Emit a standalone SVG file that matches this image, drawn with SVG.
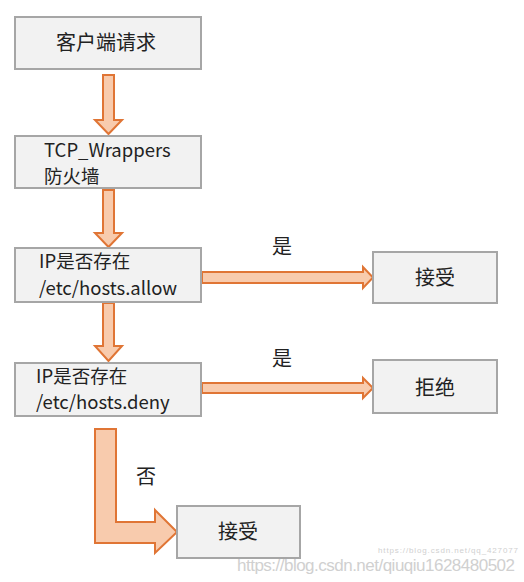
<svg xmlns="http://www.w3.org/2000/svg" width="524" height="582" viewBox="0 0 524 582">
<style>
.box{fill:#f2f2f2;stroke:#a6a6a6;stroke-width:2}
.arr{fill:#f8cbad;stroke:#e07535;stroke-width:2;stroke-linejoin:miter}
.t{font-family:"Noto Sans CJK SC","Noto Sans",sans-serif;font-size:20px;fill:#222}
.s{font-size:18.5px}
.c{text-anchor:middle}
.wm{font-family:"Liberation Sans",Arial,sans-serif;fill:#d0d0d0}
</style>
<rect width="524" height="582" fill="#fff"/>
<g id="connectors">
<path class="arr" d="M103,75 H114 V120 H122 L108.5,134 L95,120 H103 Z"/>
<path class="arr" d="M103,190 H114 V233 H122 L108.5,247 L95,233 H103 Z"/>
<path class="arr" d="M103,303 H114 V346 H122 L108.5,361 L95,346 H103 Z"/>
<path class="arr" d="M202,272 H363 V267 L373,277.5 L363,288 V283 H202 Z"/>
<path class="arr" d="M202,383 H363 V378 L373,388 L363,398 V393 H202 Z"/>
<path class="arr" d="M95,429 H116 V522 H155 V510 L177,532 L155,553 V543 H95 Z"/>
<text class="t c" x="282" y="254">是</text>
<text class="t c" x="282" y="366">是</text>
<text class="t c" x="146" y="484">否</text>
</g>
<g id="n1"><rect class="box" x="15" y="17" width="186" height="52"/><text class="t c" x="106" y="50">客户端请求</text></g>
<g id="n2"><rect class="box" x="15" y="136" width="186" height="52"/><text class="t s" x="44" y="157">TCP_Wrappers</text><text class="t s" x="44" y="183">防火墙</text></g>
<g id="n3"><rect class="box" x="15" y="248" width="186" height="54"/><text class="t s" x="39" y="268">IP是否存在</text><text class="t s" x="39" y="295">/etc/hosts.allow</text></g>
<g id="n4"><rect class="box" x="15" y="363" width="186" height="53"/><text class="t s" x="36" y="383">IP是否存在</text><text class="t s" x="36" y="409">/etc/hosts.deny</text></g>
<g id="n5"><rect class="box" x="373" y="252" width="124" height="51"/><text class="t c" x="435" y="285">接受</text></g>
<g id="n6"><rect class="box" x="373" y="360" width="124" height="53"/><text class="t c" x="435" y="395">拒绝</text></g>
<g id="n7"><rect class="box" x="177" y="506" width="123" height="52"/><text class="t c" x="238" y="539">接受</text></g>
<text class="wm" x="378" y="553" font-size="8" textLength="140">https://blog.csdn.net/qq_427077</text>
<text class="wm" x="237" y="571" font-size="17" textLength="278">https://blog.csdn.net/qiuqiu1628480502</text>
</svg>
